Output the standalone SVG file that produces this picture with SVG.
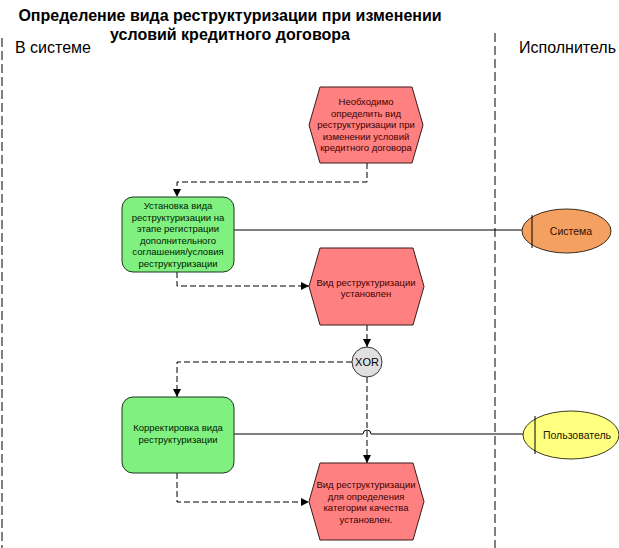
<svg xmlns="http://www.w3.org/2000/svg" width="619" height="548" viewBox="0 0 619 548">
<style>
  text { font-family: "Liberation Sans", Arial, sans-serif; }
  .title { font-size: 16px; font-weight: bold; fill: #000; }
  .lane { font-size: 16px; fill: #000; }
  .ev { fill: #FF8080; stroke: #3a1a1a; stroke-width: 1; }
  .fn { fill: #80F080; stroke: #1a3a1a; stroke-width: 1; }
  .evt { font-size: 9.5px; fill: #400000; text-anchor: middle; }
  .fnt { font-size: 9.5px; fill: #002000; text-anchor: middle; }
  .flow { fill: none; stroke: #000; stroke-width: 1; stroke-dasharray: 6 3; }
  .assoc { fill: none; stroke: #000; stroke-width: 1; }
  .lanes { stroke: #000; stroke-width: 1; stroke-dasharray: 9 4; }
  .act { font-size: 10.5px; text-anchor: middle; }
</style>
<defs>
  <marker id="arr" viewBox="0 0 10 10" refX="10" refY="5" markerWidth="8" markerHeight="8" markerUnits="userSpaceOnUse" orient="auto">
    <path d="M0,0 L10,5 L0,10 Z" fill="#000"/>
  </marker>
</defs>
<rect x="0" y="0" width="619" height="548" fill="#fff"/>

<g id="title">
  <text class="title" x="230" y="21" text-anchor="middle">Определение вида реструктуризации при изменении</text>
  <text class="title" x="230" y="40" text-anchor="middle">условий кредитного договора</text>
</g>

<g id="lanes">
  <line class="lanes" x1="2" y1="38" x2="2" y2="548"/>
  <line class="lanes" x1="495" y1="33" x2="495" y2="548"/>
  <text class="lane" x="15" y="53">В системе</text>
  <text class="lane" x="519" y="53">Исполнитель</text>
</g>

<g id="connectors">
  <path class="flow" d="M367,163 V182 H177 V197" marker-end="url(#arr)"/>
  <path class="flow" d="M177,272 V286 H309" marker-end="url(#arr)"/>
  <path class="flow" d="M367,325 V347" marker-end="url(#arr)"/>
  <path class="flow" d="M352,362 H177 V397" marker-end="url(#arr)"/>
  <path class="flow" d="M367,377 V463" marker-end="url(#arr)"/>
  <path class="flow" d="M177,473 V502 H309" marker-end="url(#arr)"/>
  <path class="assoc" d="M234,230 H522"/>
  <path class="assoc" d="M234,434 H363 A4,4 0 0 1 371,434 H523"/>
</g>

<g id="event1">
  <polygon class="ev" points="320,87 412,87 423,125 412,163 320,163 309,125"/>
  <text class="evt" x="366" y="105">Необходимо</text>
  <text class="evt" x="366" y="116.5">определить вид</text>
  <text class="evt" x="366" y="128">реструктуризации при</text>
  <text class="evt" x="366" y="139.5">изменении условий</text>
  <text class="evt" x="366" y="151">кредитного договора</text>
</g>

<g id="function1">
  <rect class="fn" x="122" y="197" width="112" height="75" rx="11" ry="11"/>
  <text class="fnt" x="178" y="209">Установка вида</text>
  <text class="fnt" x="178" y="220.5">реструктуризации на</text>
  <text class="fnt" x="178" y="232">этапе регистрации</text>
  <text class="fnt" x="178" y="243.5">дополнительного</text>
  <text class="fnt" x="178" y="255">соглашения/условия</text>
  <text class="fnt" x="178" y="266.5">реструктуризации</text>
</g>

<g id="event2">
  <polygon class="ev" points="320,248 413,248 424,286.5 413,325 320,325 309,286.5"/>
  <text class="evt" x="366" y="286">Вид реструктуризации</text>
  <text class="evt" x="366" y="297">установлен</text>
</g>

<g id="xor">
  <circle cx="367" cy="362" r="15" fill="#E0E0E0" stroke="#333" stroke-width="1"/>
  <text x="367" y="366" font-size="11" text-anchor="middle" fill="#000">XOR</text>
</g>

<g id="function2">
  <rect class="fn" x="122" y="397" width="112" height="76" rx="11" ry="11"/>
  <text class="fnt" x="178" y="431">Корректировка вида</text>
  <text class="fnt" x="178" y="443">реструктуризации</text>
</g>

<g id="event3">
  <polygon class="ev" points="320,463 413,463 424,501.5 413,540 320,540 309,501.5"/>
  <text class="evt" x="366" y="488">Вид реструктуризации</text>
  <text class="evt" x="366" y="499.5">для определения</text>
  <text class="evt" x="366" y="511">категории качества</text>
  <text class="evt" x="366" y="522.5">установлен.</text>
</g>

<g id="actor-system">
  <ellipse cx="566.5" cy="231" rx="44.5" ry="22" fill="#F4A060" stroke="#3a2a1a" stroke-width="1"/>
  <line x1="532" y1="215" x2="532" y2="248" stroke="#000" stroke-width="1"/>
  <text class="act" x="571" y="234.5" fill="#301000">Система</text>
</g>

<g id="actor-user">
  <ellipse cx="571" cy="435" rx="48" ry="24" fill="#FFFF80" stroke="#3a3a1a" stroke-width="1"/>
  <line x1="535" y1="416" x2="535" y2="454" stroke="#000" stroke-width="1"/>
  <text class="act" x="577" y="438.5" fill="#202000">Пользователь</text>
</g>
</svg>
